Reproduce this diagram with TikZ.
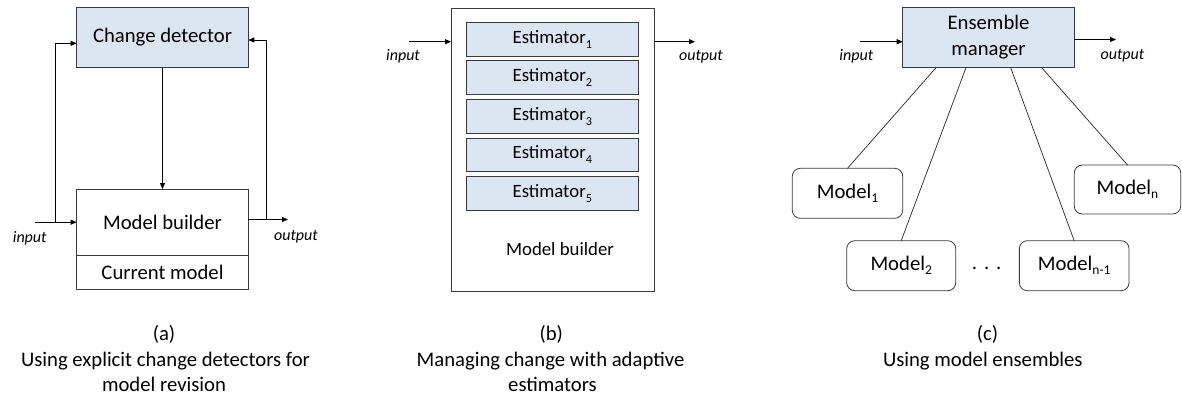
\documentclass[tikz,border=0pt]{standalone}
\usepackage{fontspec}
\setmainfont{Carlito}
\usetikzlibrary{arrows.meta}
\definecolor{boxblue}{HTML}{DCE6F2}
\definecolor{edge}{HTML}{3A3A3A}
\newcommand{\fA}{\fontsize{20.7bp}{26bp}\selectfont}
\newcommand{\fB}{\fontsize{18.8bp}{22bp}\selectfont}
\newcommand{\fI}{\fontsize{16bp}{19bp}\selectfont\itshape}
\newcommand{\lowsub}[2]{\raisebox{-#1em}{\fontsize{0.65em}{0.8em}\selectfont #2}}
\begin{document}
\begin{tikzpicture}[x=1bp,y=-1bp,
  every node/.style={inner sep=0pt,outer sep=0pt},
  plainbox/.style={draw=edge,line width=0.8bp},
  bluebox/.style={plainbox,fill=boxblue},
  rbox/.style={plainbox,rounded corners=8bp,minimum height=50bp,font=\fA},
  arr/.style={-{Triangle[length=6bp,width=5bp]},line width=0.8bp,draw=black},
  conn/.style={line width=0.7bp,draw=black!85},
  lbl/.style={font=\fI},
  captxt/.style={font=\fA,anchor=base}]
\useasboundingbox (0,0) rectangle (1182,394);
% ---------- (a)
\node[bluebox,minimum width=171.6bp,minimum height=60.4bp,font=\fA] (cd) at (162.5,37.5) {Change detector};
\node[plainbox,minimum width=171.6bp,minimum height=66.3bp,font=\fA] (mb) at (162.5,222.2) {Model builder};
\node[plainbox,minimum width=171.6bp,minimum height=33.7bp,font=\fA] (cm) at (162.5,272.2) {Current model};
\coordinate (ain) at (35,222.2);
\coordinate (asplit) at (55,222.2);
\coordinate (aout) at (288,219.5);
\coordinate (asplit2) at (266,219.5);
\draw[arr] (ain) -- (mb.west);
\draw[arr] (asplit) |- ([yshift=-5.8bp]cd.west);
\draw[arr] ([yshift=2.7bp]mb.east) -- (aout);
\draw[arr] (asplit2) |- ([yshift=-2.5bp]cd.east);
\draw[arr] (cd) -- (mb);
\node[lbl] (ainl) at (29.7,238) {input};
\node[lbl] (aoutl) at (296,237) {output};
\node[captxt] (capa1) at (164,340.5) {(a)};
\node[captxt] (capa2) at (165.5,366.5) {Using explicit change detectors for};
\node[captxt] (capa3) at (164,391.3) {model revision};
% ---------- (b)
\node[plainbox,minimum width=203.3bp,minimum height=282.7bp] (ob) at (552.7,149.7) {};
\foreach \i/\y in {1/39.2,2/77.7,3/116.2,4/154.9,5/193.3}
  \node[bluebox,minimum width=172bp,minimum height=33.8bp,font=\fB] (e\i) at (552.3,\y) {Estimator\lowsub{0.27}{\i}};
\node[font=\fB] (mbl) at (560,249.3) {Model builder};
\coordinate (bin) at (409.3,41.7);
\coordinate (bout) at (695,41.7);
\draw[arr] (bin) -- (bin -| ob.west);
\draw[arr] (bout -| ob.east) -- (bout);
\node[lbl] (binl) at (403,56.7) {input};
\node[lbl] (boutl) at (701,57) {output};
\node[captxt] (capb1) at (551.3,340.5) {(b)};
\node[captxt] (capb2) at (550.5,366.5) {Managing change with adaptive};
\node[captxt] (capb3) at (552.5,391.3) {estimators};
% ---------- (c)
\node[bluebox,minimum width=171.6bp,minimum height=60.4bp,font=\fA,align=center] (em) at (988.5,37.5) {Ensemble\\manager};
\coordinate (cin) at (860,41.7);
\coordinate (cout) at (1116,39.5);
\draw[arr] (cin) -- (cin -| em.west);
\draw[arr] (cout -| em.east) -- (cout);
\node[lbl] (cinl) at (856.3,56) {input};
\node[lbl] (coutl) at (1122.4,56) {output};
\node[rbox,minimum width=110.4bp] (m1) at (847.5,193.3) {Model\lowsub{0.2}{1}};
\node[rbox,minimum width=109bp] (m2) at (901.2,265.7) {Model\lowsub{0.2}{2}};
\node[rbox,minimum width=109.7bp] (mn1) at (1074.2,265.7) {Model\lowsub{0.2}{n-1}};
\node[rbox,minimum width=106.4bp,minimum height=49bp] (mn) at (1127.5,189.5) {Model\lowsub{0.2}{n}};
\node[font=\fA] (dots) at (986.7,268.5) {.\,\,.\,\,.};
\draw[conn] ([xshift=-52.5bp]em.south) -- (m1.north);
\draw[conn] ([xshift=-22.5bp]em.south) -- (m2.north);
\draw[conn] ([xshift=22.2bp]em.south) -- (mn1.north);
\draw[conn] ([xshift=53.2bp]em.south) -- (mn.north);
\node[captxt] (capc1) at (987.5,340.5) {(c)};
\node[captxt] (capc2) at (982.8,366.5) {Using model ensembles};
\end{tikzpicture}
\end{document}
